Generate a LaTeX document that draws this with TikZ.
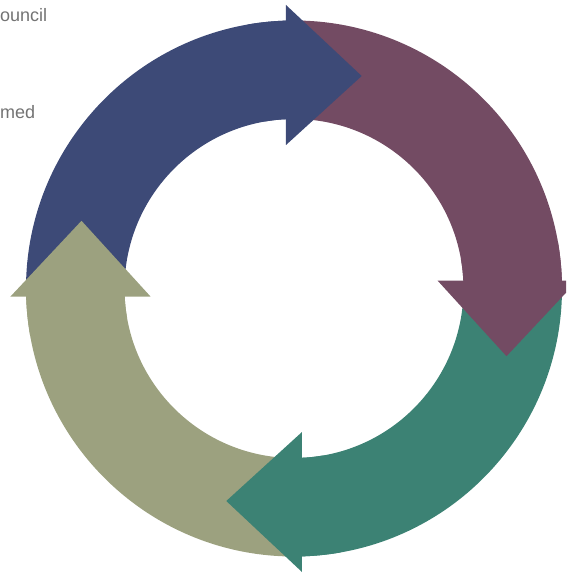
\documentclass[tikz,border=0pt]{standalone}
\usepackage{fontspec}
\newfontfamily\lblfont{Liberation Sans}
\definecolor{cycblue}{RGB}{61,74,119}
\definecolor{cycmaroon}{RGB}{115,75,99}
\definecolor{cycteal}{RGB}{60,130,116}
\definecolor{cycolive}{RGB}{156,161,127}
\definecolor{lblgray}{RGB}{115,115,115}
\begin{document}
\begin{tikzpicture}[x=1pt, y=1pt,
  lbl/.style={inner sep=0pt, anchor=base west, text=lblgray, font=\lblfont\fontsize{18}{21}\selectfont}]
\path[use as bounding box, clip] (-294,-287.5) rectangle (272,288.5);
% bands
\fill[cycblue] (181.71:268) arc[start angle=181.71, end angle=91.71, radius=268pt] -- (92.71:169.5) arc[start angle=92.71, end angle=182.71, radius=169.5pt] -- cycle;
\fill[cycmaroon] (91.71:268) arc[start angle=91.71, end angle=1.71, radius=268pt] -- (2.71:169.5) arc[start angle=2.71, end angle=92.71, radius=169.5pt] -- cycle;
\fill[cycteal] (1.71:268) arc[start angle=1.71, end angle=-88.29, radius=268pt] -- (-87.29:169.5) arc[start angle=-87.29, end angle=2.71, radius=169.5pt] -- cycle;
\fill[cycolive] (-88.29:268) arc[start angle=-88.29, end angle=-178.29, radius=268pt] -- (-177.29:169.5) arc[start angle=-177.29, end angle=-87.29, radius=169.5pt] -- cycle;
% heads (with the last bit of their own band, so no seam shows)
\fill[cycblue] (100:268) arc[start angle=100, end angle=90.9, radius=268pt] -- (91.9:169.5) arc[start angle=91.9, end angle=100, radius=169.5pt] -- cycle
  (-8,143.5) -- (-8,283.5) -- (67.7,212.5) -- cycle;
\fill[cycmaroon] (10:268) arc[start angle=10, end angle=0.9, radius=268pt] -- (1.9:169.5) arc[start angle=1.9, end angle=10, radius=169.5pt] -- cycle
  (143.5,8) -- (283.5,8) -- (212.5,-67.7) -- cycle;
\fill[cycteal] (-80:268) arc[start angle=-80, end angle=-89.1, radius=268pt] -- (-88.1:169.5) arc[start angle=-88.1, end angle=-80, radius=169.5pt] -- cycle
  (8,-143.5) -- (8,-283.5) -- (-67.7,-212.5) -- cycle;
\fill[cycolive] (-170:268) arc[start angle=-170, end angle=-179.1, radius=268pt] -- (-178.1:169.5) arc[start angle=-178.1, end angle=-170, radius=169.5pt] -- cycle
  (-143.5,-8) -- (-283.5,-8) -- (-212.5,67.7) -- cycle;
% labels
\node[lbl] (council) at (-294,266.5) {ouncil};
\node[lbl] (med) at (-294,169.5) {med};
\end{tikzpicture}
\end{document}
